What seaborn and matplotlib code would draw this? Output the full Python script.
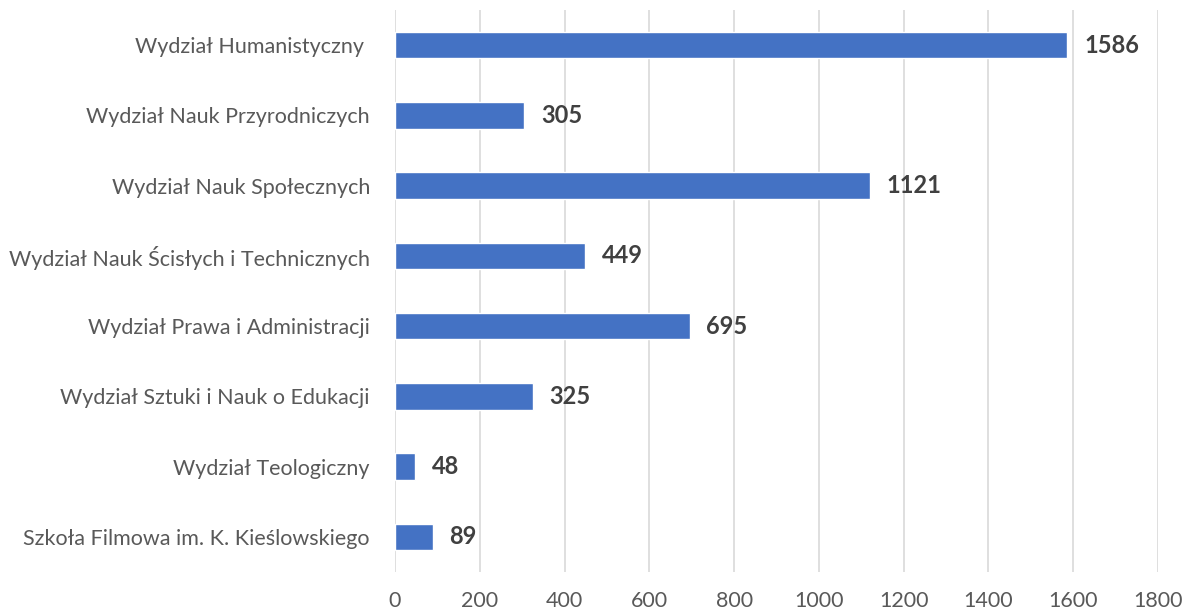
import matplotlib
matplotlib.use("Agg")
import matplotlib.pyplot as plt
import seaborn as sns
import pandas as pd

faculties = [
    "Wydział Humanistyczny ",
    "Wydział Nauk Przyrodniczych",
    "Wydział Nauk Społecznych",
    "Wydział Nauk Ścisłych i Technicznych",
    "Wydział Prawa i Administracji",
    "Wydział Sztuki i Nauk o Edukacji",
    "Wydział Teologiczny",
    "Szkoła Filmowa im. K. Kieślowskiego",
]
counts = [1586, 305, 1121, 449, 695, 325, 48, 89]
x_ticks = [0, 200, 400, 600, 800, 1000, 1200, 1400, 1600, 1800]

df = pd.DataFrame({"wydzial": faculties, "liczba": counts})

sns.set_theme(style="white")
plt.rcParams["font.family"] = ["Lato", "DejaVu Sans"]

fig = plt.figure(figsize=(11.84, 6.11), dpi=100)
ax = fig.add_axes([0.3336, 0.0638, 0.6445, 0.9198])

sns.barplot(data=df, x="liczba", y="wydzial", orient="h", color="#4472C4",
            saturation=1, width=0.38, ax=ax)

ax.set_xlim(0, 1800)
ax.set_ylim(7.5, -0.5)
ax.set_xticks(x_ticks)
ax.set_xticklabels([str(t) for t in x_ticks])
ax.set_xlabel("")
ax.set_ylabel("")
ax.xaxis.grid(True, color="#D9D9D9", linewidth=1.2)
ax.set_axisbelow(True)
for s in ax.spines.values():
    s.set_visible(False)
ax.tick_params(axis="x", length=0, pad=14, labelsize=15.5, labelcolor="#595959")
ax.tick_params(axis="y", length=0, pad=18, labelsize=15.5, labelcolor="#595959")

for container in ax.containers:
    ax.bar_label(container, labels=[str(v) for v in counts], padding=12,
                 fontsize=17, fontweight="bold", color="#404040")

fig.savefig("out.png", dpi=100)
